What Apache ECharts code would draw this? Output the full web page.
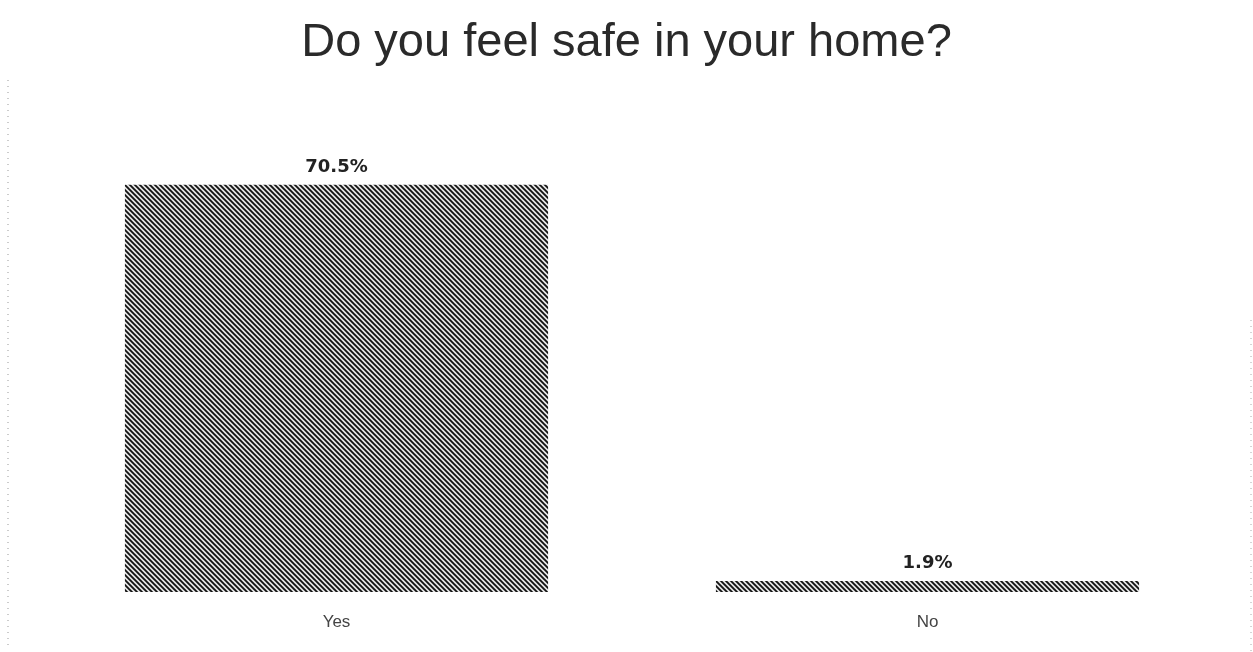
<!DOCTYPE html>
<html>
<head>
<meta charset="utf-8">
<script src="https://cdn.jsdelivr.net/npm/echarts@6/dist/echarts.min.js"></script>
<style>
  html, body { margin: 0; padding: 0; background: #fff; }
  #chart { width: 1253px; height: 652px; }
</style>
</head>
<body>
<div id="chart"></div>
<script>
// Survey answers and their shares (percent)
const categories = ['Yes', 'No'];
const shares = [70.5, 1.9];
const titleText = 'Do you feel safe in your home?';

// Diagonal hatch used to fill the bars
function hatch() {
  const s = 5;
  const c = document.createElement('canvas');
  c.width = s; c.height = s;
  const g = c.getContext('2d');
  g.fillStyle = '#e6e6e6';
  g.fillRect(0, 0, s, s);
  g.strokeStyle = '#111111';
  g.lineWidth = 1.8;
  g.beginPath();
  for (let k = -s; k <= s; k += s) {
    g.moveTo(k - 1, -1);
    g.lineTo(k + s + 1, s + 1);
  }
  g.stroke();
  return c;
}

const chart = echarts.init(document.getElementById('chart'), null, { renderer: 'canvas' });
chart.setOption({
  animation: false,
  backgroundColor: '#ffffff',
  title: {
    text: titleText,
    left: 'center',
    top: 15,
    textStyle: { fontFamily: 'Liberation Sans, Arial, sans-serif', fontSize: 47, fontWeight: 'normal', color: '#2a2a2a' }
  },
  grid: { left: 41, right: 30, top: 130, bottom: 60 },
  xAxis: {
    type: 'category',
    data: categories,
    axisLine: { show: false },
    axisTick: { show: false },
    axisLabel: { margin: 22, fontFamily: 'Liberation Sans, Arial, sans-serif', fontSize: 17, color: '#444' }
  },
  yAxis: {
    type: 'value',
    min: 0,
    max: 80,
    show: false,
    splitLine: { show: false }
  },
  series: [{
    type: 'bar',
    data: shares,
    barWidth: '71.6%',
    itemStyle: { color: { image: hatch(), repeat: 'repeat' } },
    label: {
      show: true,
      position: 'top',
      distance: 9,
      formatter: p => p.value.toFixed(1) + '%',
      fontFamily: 'DejaVu Sans, sans-serif',
      fontWeight: 'bold',
      fontSize: 18,
      color: '#222'
    }
  }],
  graphic: [
    { type: 'line', shape: { x1: 8, y1: 80, x2: 8, y2: 645 }, style: { stroke: '#999', lineWidth: 1, lineDash: [1, 5] }, silent: true },
    { type: 'line', shape: { x1: 1251, y1: 320, x2: 1251, y2: 652 }, style: { stroke: '#aaa', lineWidth: 1, lineDash: [1, 5] }, silent: true }
  ]
});
</script>
</body>
</html>
